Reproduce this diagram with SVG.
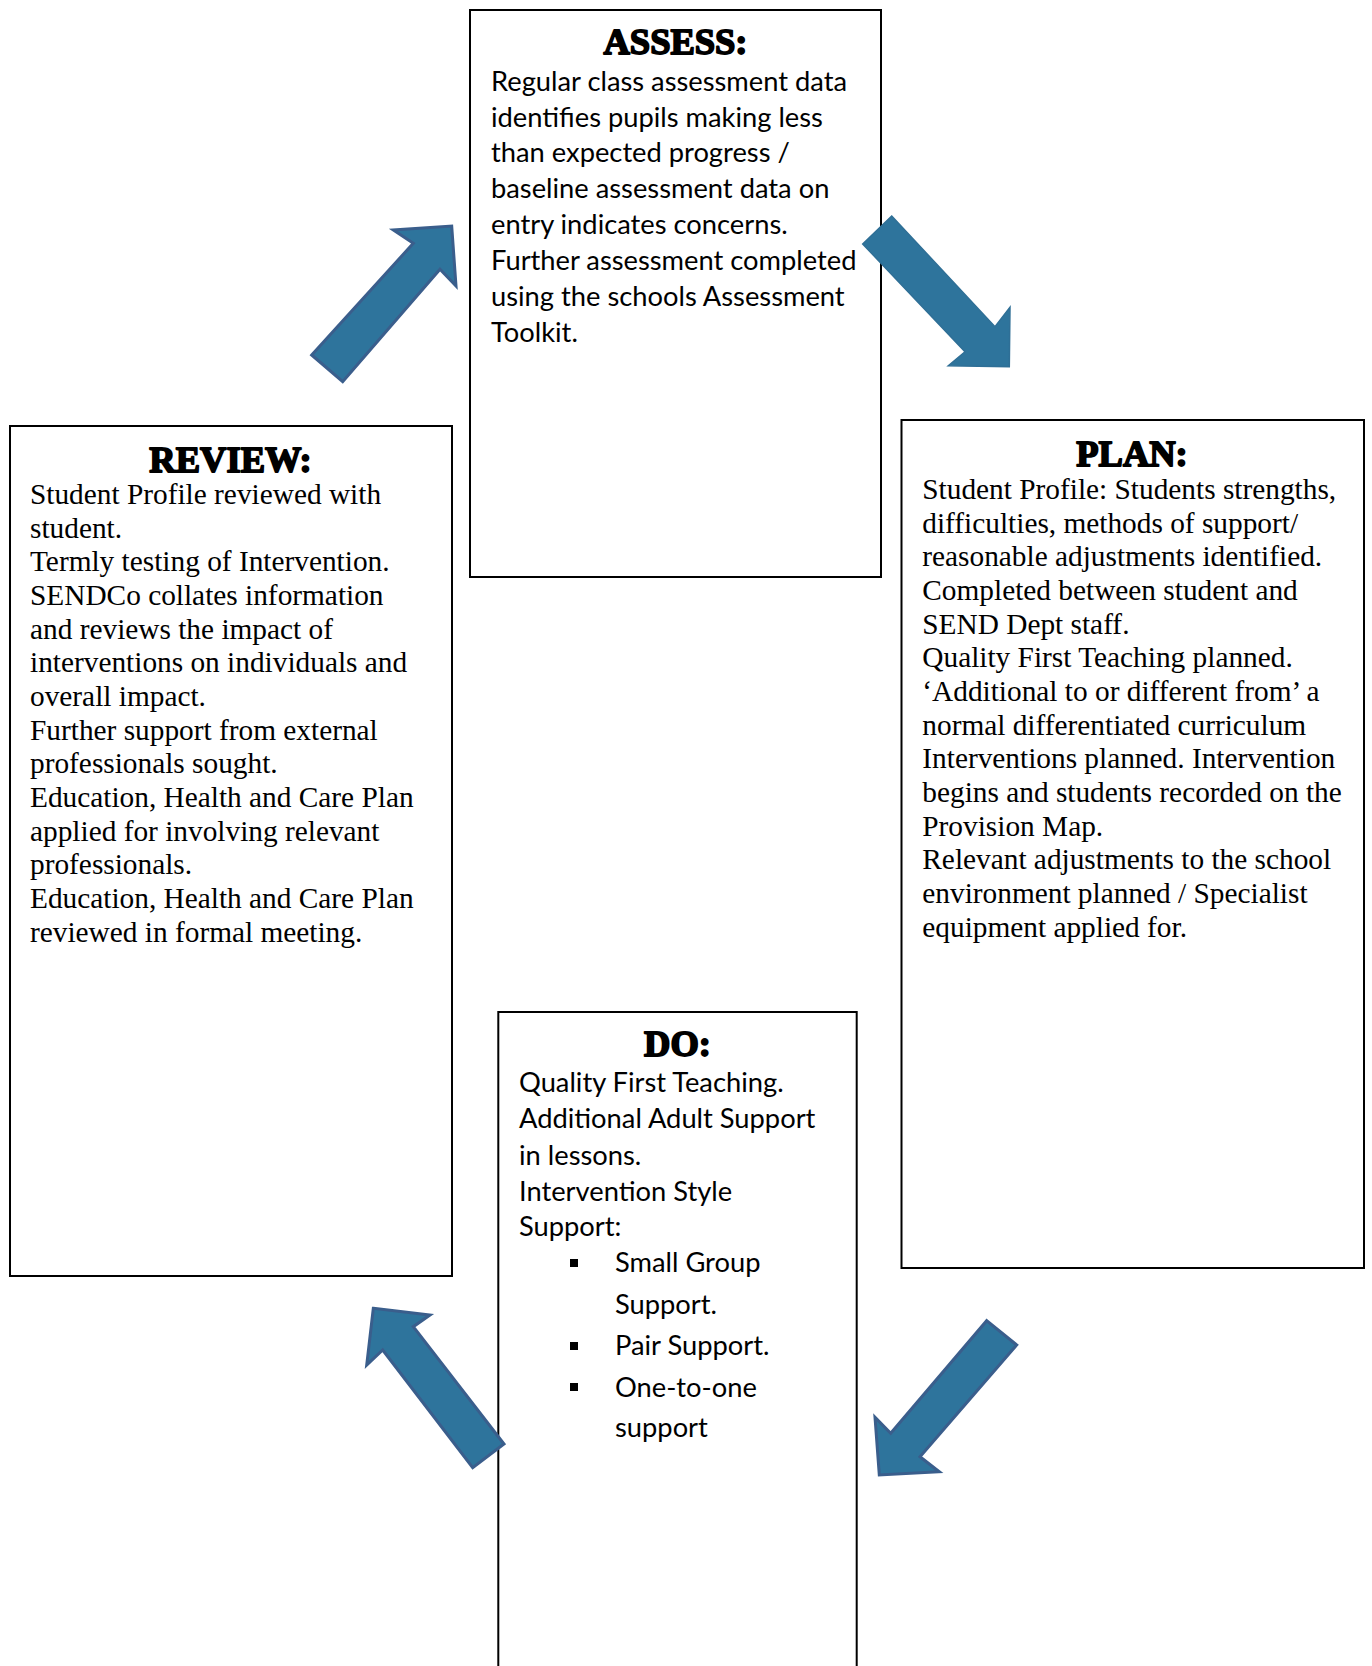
<svg xmlns="http://www.w3.org/2000/svg" width="1372" height="1666" viewBox="0 0 1372 1666">
<style>
.bg{fill:#ffffff}
.box{fill:#ffffff;stroke:#000000;stroke-width:2}
.title{font-family:"Liberation Serif","Times New Roman",serif;font-weight:bold;font-size:36.5px;fill:#000;stroke:#000;stroke-width:1.8;stroke-linejoin:round;text-anchor:middle}
.serif{font-family:"Liberation Serif","Times New Roman",serif;font-size:29.33px;fill:#000}
.sans{font-family:Lato,"Liberation Sans",sans-serif;font-size:27.3px;fill:#000}
.arrow{fill:#2E749C;stroke:#3A5E8C;stroke-width:3;stroke-linejoin:miter}
.arrow2{fill:#2E749C;stroke:#2F6F96;stroke-width:1.5;stroke-linejoin:miter}
.bullet{fill:#000}
</style>
<rect class="bg" x="0" y="0" width="1372" height="1666"/>
<g id="assess">
<rect class="box" x="470" y="10" width="411" height="567"/>
<text class="title" x="675.5" y="53.5">ASSESS:</text>
<text class="sans" x="491">
<tspan x="491" y="90.7">Regular class assessment data</tspan>
<tspan x="491" y="126.5">identifies pupils making less</tspan>
<tspan x="491" y="162.4">than expected progress /</tspan>
<tspan x="491" y="198.2">baseline assessment data on</tspan>
<tspan x="491" y="234.1">entry indicates concerns.</tspan>
<tspan x="491" y="269.9">Further assessment completed</tspan>
<tspan x="491" y="305.8">using the schools Assessment</tspan>
<tspan x="491" y="341.6">Toolkit.</tspan>
</text>
</g>
<g id="review">
<rect class="box" x="10" y="426" width="442" height="850"/>
<text class="title" x="230.5" y="471.5">REVIEW:</text>
<text class="serif">
<tspan x="30" y="504">Student Profile reviewed with</tspan>
<tspan x="30" y="537.7">student.</tspan>
<tspan x="30" y="571.3">Termly testing of Intervention.</tspan>
<tspan x="30" y="605">SENDCo collates information</tspan>
<tspan x="30" y="638.6">and reviews the impact of</tspan>
<tspan x="30" y="672.3">interventions on individuals and</tspan>
<tspan x="30" y="705.9">overall impact.</tspan>
<tspan x="30" y="739.6">Further support from external</tspan>
<tspan x="30" y="773.2">professionals sought.</tspan>
<tspan x="30" y="806.9">Education, Health and Care Plan</tspan>
<tspan x="30" y="840.5">applied for involving relevant</tspan>
<tspan x="30" y="874.2">professionals.</tspan>
<tspan x="30" y="907.8">Education, Health and Care Plan</tspan>
<tspan x="30" y="941.5">reviewed in formal meeting.</tspan>
</text>
</g>
<g id="plan">
<rect class="box" x="901.5" y="420" width="462.5" height="848"/>
<text class="title" x="1132" y="465.5">PLAN:</text>
<text class="serif">
<tspan x="922.3" y="499">Student Profile: Students strengths,</tspan>
<tspan x="922.3" y="532.7">difficulties, methods of support/</tspan>
<tspan x="922.3" y="566.3">reasonable adjustments identified.</tspan>
<tspan x="922.3" y="600">Completed between student and</tspan>
<tspan x="922.3" y="633.6">SEND Dept staff.</tspan>
<tspan x="922.3" y="667.3">Quality First Teaching planned.</tspan>
<tspan x="922.3" y="700.9">‘Additional to or different from’ a</tspan>
<tspan x="922.3" y="734.6">normal differentiated curriculum</tspan>
<tspan x="922.3" y="768.2">Interventions planned. Intervention</tspan>
<tspan x="922.3" y="801.9">begins and students recorded on the</tspan>
<tspan x="922.3" y="835.5">Provision Map.</tspan>
<tspan x="922.3" y="869.2">Relevant adjustments to the school</tspan>
<tspan x="922.3" y="902.8">environment planned / Specialist</tspan>
<tspan x="922.3" y="936.5">equipment applied for.</tspan>
</text>
</g>
<g id="do">
<rect class="box" x="498.3" y="1012" width="358.4" height="670"/>
<text class="title" x="677.5" y="1056">DO:</text>
<text class="sans">
<tspan x="519" y="1092">Quality First Teaching.</tspan>
<tspan x="519" y="1128.3">Additional Adult Support</tspan>
<tspan x="519" y="1165">in lessons.</tspan>
<tspan x="519" y="1200.5">Intervention Style</tspan>
<tspan x="519" y="1235.5">Support:</tspan>
<tspan x="615" y="1272">Small Group</tspan>
<tspan x="615" y="1313.5">Support.</tspan>
<tspan x="615" y="1355">Pair Support.</tspan>
<tspan x="615" y="1396.5">One-to-one</tspan>
<tspan x="615" y="1436.7">support</tspan>
</text>
<rect class="bullet" x="570" y="1259" width="8" height="8"/>
<rect class="bullet" x="570" y="1342" width="8" height="8"/>
<rect class="bullet" x="570" y="1383" width="8" height="8"/>
</g>
<g id="connectors">
<polygon class="arrow" points="311.7,355 413.3,243.3 393.3,230 451.7,226 456,286 440,269.3 342.7,381.7"/>
<polygon class="arrow2" points="891.7,216 995,326.7 1010,307.3 1009.3,366.7 948.3,365.7 965,351.7 862.7,244"/>
<polygon class="arrow" points="373.3,1308.3 430,1315 413.3,1326.7 504,1444 472.7,1467.7 382.7,1350 366.7,1365"/>
<polygon class="arrow" points="986.7,1320.7 1016.7,1345 920,1456.7 939.3,1471.7 879.3,1475 875,1417.3 890.7,1433.3"/>
</g>
</svg>
